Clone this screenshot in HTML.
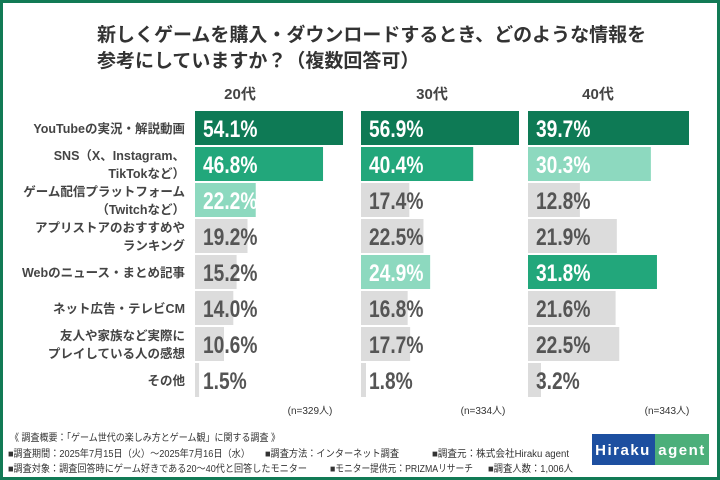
<!DOCTYPE html>
<html><head><meta charset="utf-8"><style>
body{margin:0;background:#fff}
svg{display:block;font-family:"Liberation Sans","Noto Sans CJK JP",sans-serif}
</style></head><body>
<svg id="c" width="720" height="480" viewBox="0 0 720 480">
<rect x="1.5" y="1.5" width="717" height="477" fill="#fff" stroke="#127a55" stroke-width="3"/>
<text x="97" y="41" font-size="19" font-weight="bold" fill="#333">新しくゲームを購入・ダウンロードするとき、どのような情報を</text>
<text x="97" y="67" font-size="19" font-weight="bold" fill="#333">参考にしていますか？（複数回答可）</text>
<g id="labels"></g>
<g id="bars"></g>
<g font-size="10" fill="#333">
<text x="10" y="441" textLength="270" lengthAdjust="spacingAndGlyphs">《 調査概要：「ゲーム世代の楽しみ方とゲーム観」に関する調査 》</text>
<text x="8" y="457" textLength="242" lengthAdjust="spacingAndGlyphs">■調査期間：2025年7月15日（火）～2025年7月16日（水）</text>
<text x="265" y="457" textLength="134" lengthAdjust="spacingAndGlyphs">■調査方法：インターネット調査</text>
<text x="432" y="457" textLength="137" lengthAdjust="spacingAndGlyphs">■調査元：株式会社Hiraku agent</text>
<text x="8" y="472" textLength="299" lengthAdjust="spacingAndGlyphs">■調査対象：調査回答時にゲーム好きである20～40代と回答したモニター</text>
<text x="330" y="472" textLength="143" lengthAdjust="spacingAndGlyphs">■モニター提供元：PRIZMAリサーチ</text>
<text x="488" y="472" textLength="85" lengthAdjust="spacingAndGlyphs">■調査人数：1,006人</text>
</g>
<g>
<rect x="592" y="434" width="63" height="31" fill="#1d4fa0"/>
<rect x="655" y="434" width="54" height="31" fill="#4caf7a"/>
<text x="623" y="455" font-size="15" font-weight="bold" fill="#fff" text-anchor="middle" letter-spacing="1.5">Hiraku</text>
<text x="682" y="455" font-size="15" font-weight="bold" fill="#fff" text-anchor="middle" letter-spacing="1.5">agent</text>
</g>
</svg>
<script>
const categories=[["YouTubeの実況・解説動画"],["SNS（X、Instagram、","TikTokなど）"],["ゲーム配信プラットフォーム","（Twitchなど）"],["アプリストアのおすすめや","ランキング"],["Webのニュース・まとめ記事"],["ネット広告・テレビCM"],["友人や家族など実際に","プレイしている人の感想"],["その他"]];
const groups=["20代","30代","40代"];
const nLabels=["(n=329人)","(n=334人)","(n=343人)"];
const values20=[54.1,46.8,22.2,19.2,15.2,14.0,10.6,1.5];
const values30=[56.9,40.4,17.4,22.5,24.9,16.8,17.7,1.8];
const values40=[39.7,30.3,12.8,21.9,31.8,21.6,22.5,3.2];
const series=[values20,values30,values40];
const NS="http://www.w3.org/2000/svg";
const panelX=[195,361,528], panelW=[148,158,161], headerX=[240,432,598], nX=[310,483,667];
const rowY=i=>111+i*36, barH=34;
function mk(tag,attrs,parent){const e=document.createElementNS(NS,tag);for(const k in attrs)e.setAttribute(k,attrs[k]);parent.appendChild(e);return e;}
const lab=document.getElementById('labels'), bars=document.getElementById('bars');
categories.forEach((lines,i)=>{
  const cy=rowY(i)+barH/2;
  lines.forEach((s,j)=>{
    const t=mk('text',{x:185,y:cy+5+(lines.length===2?(j?9:-9):0),'font-size':12.5,'font-weight':'bold',fill:'#444','text-anchor':'end'},lab);
    
    
    t.textContent=s;
  });
});
const colors=['#0e7a55','#22a77b','#8dd9bf'];
series.forEach((vals,g)=>{
  const mx=Math.max(...vals), sc=panelW[g]/mx;
  const h=mk('text',{x:headerX[g],y:99,'font-size':15,'font-weight':'bold',fill:'#444','text-anchor':'middle'},bars);
  
  
  h.textContent=groups[g];
  const n=mk('text',{x:nX[g],y:414,'font-size':10,fill:'#333','text-anchor':'middle'},bars);
  
  
  n.textContent=nLabels[g];
  const rank=[...vals].map((v,i)=>[v,i]).sort((a,b)=>b[0]-a[0]).map(a=>a[1]);
  vals.forEach((v,i)=>{
    const r=rank.indexOf(i);
    const col=r<3?colors[r]:'#dcdcdc';
    const b=mk('rect',{x:panelX[g],y:rowY(i),width:v*sc,height:barH,fill:col},bars);
    
    
    const tx=panelX[g]+8, ty=rowY(i)+26;
    const t=mk('text',{x:0,y:0,transform:`translate(${tx},${ty}) scale(0.8,1)`,'font-size':24,'font-weight':'bold',fill:r<3?'#fff':'#555'},bars);
    
    
    t.textContent=v.toFixed(1)+'%';
  });
});
</script>
</body></html>
